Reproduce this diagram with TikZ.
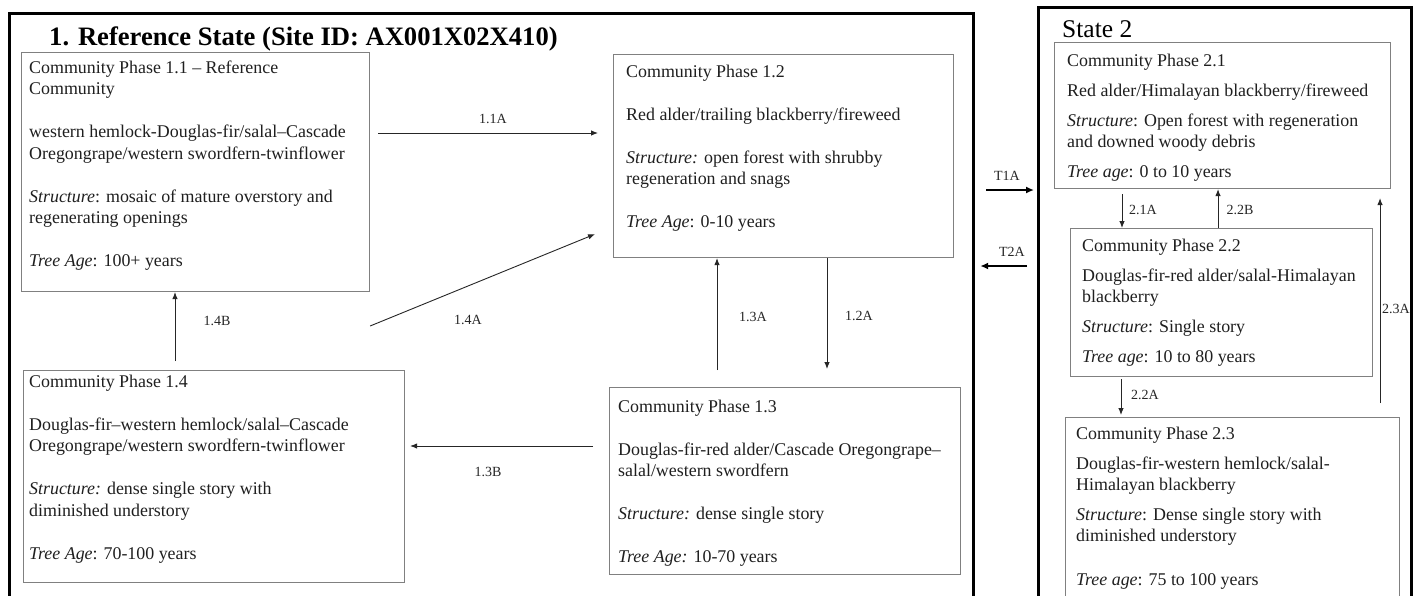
\documentclass[tikz,border=0pt]{standalone}
\usepackage{fontspec}
\setmainfont{Liberation Serif}
\usetikzlibrary{arrows.meta,calc}
\begin{document}
\begin{tikzpicture}[x=1pt,y=-1pt,
  frame/.style={draw=black, line width=3.2pt, anchor=north west, inner sep=0pt},
  box/.style={draw=black!50, line width=1.1pt, anchor=north west, inner sep=0pt},
  txt/.style={anchor=north west, inner sep=0pt, align=left, font=\fontsize{17.9}{21.5}\selectfont, text=black!88},
  txtb/.style={txt, font=\fontsize{17.9}{21}\selectfont},
  arr/.style={draw=black!85, line width=0.9pt, -{Latex[length=7pt,width=5.5pt]}},
  tarr/.style={draw=black, line width=2.2pt, -{Latex[length=8pt,width=7pt]}},
  lab/.style={font=\fontsize{14}{16}\selectfont, inner sep=0pt, text=black!85}]
\useasboundingbox (0,0) rectangle (1420,595);
\clip (0,0) rectangle (1420,595);
\fill[white] (0,0) rectangle (1420,595);

% state frames
\node[frame, minimum width=964pt, minimum height=640pt] (s1) at (8,12) {};
\node[frame, minimum width=373pt, minimum height=640pt] (s2) at (1037,6) {};
\node[anchor=base west, inner sep=0pt, font=\fontsize{26.6}{30}\selectfont\bfseries] (title1) at (49,45) {1. Reference State (Site ID: AX001X02X410)};
\node[anchor=base west, inner sep=0pt, font=\fontsize{25.5}{28}\selectfont] (title2) at (1062,37) {State 2};

% community phase boxes
\node[box, minimum width=348pt, minimum height=239pt] (p11) at (21,52) {};
\node[box, minimum width=340pt, minimum height=203pt] (p12) at (613,54) {};
\node[box, minimum width=351pt, minimum height=187pt] (p13) at (609,387) {};
\node[box, minimum width=381pt, minimum height=212pt] (p14) at (23,370) {};
\node[box, minimum width=336pt, minimum height=146pt] (p21) at (1054,42) {};
\node[box, minimum width=302pt, minimum height=148pt] (p22) at (1070,228) {};
\node[box, minimum width=334pt, minimum height=220pt] (p23) at (1065,417) {};

% texts
\node[txt] (t11) at ($(p11.north west)+(8,6)$) {\strut Community Phase 1.1 – Reference\\
Community\\[21.5pt]
western hemlock-Douglas-fir/salal–Cascade\\
Oregongrape/western swordfern-twinflower\\[21.5pt]
\textit{Structure}: mosaic of mature overstory and\\
regenerating openings\\[21.5pt]
\textit{Tree Age}: 100+ years};

\node[txt] (t12) at ($(p12.north west)+(13,8)$) {\strut Community Phase 1.2\\[21.5pt]
Red alder/trailing blackberry/fireweed\\[21.5pt]
\textit{Structure:} open forest with shrubby\\
regeneration and snags\\[21.5pt]
\textit{Tree Age}: 0-10 years};

\node[txt] (t13) at ($(p13.north west)+(9,10)$) {\strut Community Phase 1.3\\[21.5pt]
Douglas-fir-red alder/Cascade Oregongrape–\\
salal/western swordfern\\[21.5pt]
\textit{Structure:} dense single story\\[21.5pt]
\textit{Tree Age:} 10-70 years};

\node[txt] (t14) at ($(p14.north west)+(6,2)$) {\strut Community Phase 1.4\\[21.5pt]
Douglas-fir–western hemlock/salal–Cascade\\
Oregongrape/western swordfern-twinflower\\[21.5pt]
\textit{Structure:} dense single story with\\
diminished understory\\[21.5pt]
\textit{Tree Age}: 70-100 years};

\node[txtb] (t21) at ($(p21.north west)+(13,10)$) {\strut Community Phase 2.1\\[9pt]
Red alder/Himalayan blackberry/fireweed\\[9pt]
\textit{Structure}: Open forest with regeneration\\
and downed woody debris\\[9pt]
\textit{Tree age}: 0 to 10 years};

\node[txtb] (t22) at ($(p22.north west)+(12,9)$) {\strut Community Phase 2.2\\[9pt]
Douglas-fir-red alder/salal-Himalayan\\
blackberry\\[9pt]
\textit{Structure}: Single story\\[9pt]
\textit{Tree age}: 10 to 80 years};

\node[txtb] (t23) at ($(p23.north west)+(11,8)$) {\strut Community Phase 2.3\\[9pt]
Douglas-fir-western hemlock/salal-\\
Himalayan blackberry\\[9pt]
\textit{Structure}: Dense single story with\\
diminished understory\\[23pt]
\textit{Tree age}: 75 to 100 years};

% transitions within state 1
\draw[arr] ($(p11.north east)+(8,81)$) -- ($(p12.north west)+(-15,79)$);
\draw[arr] ($(p14.north east)+(-35,-44)$) -- ($(p12.south west)+(-18,-24)$);
\draw[arr] ($(p14.north west)+(152,-9)$) -- ($(p11.south west)+(154,0)$);
\draw[arr] ($(p13.north west)+(108,-17)$) -- ($(p12.south west)+(104,0)$);
\draw[arr] ($(p12.south west)+(214,0)$) -- ($(p13.north west)+(218,-18)$);
\draw[arr] ($(p13.north west)+(-16,59)$) -- ($(p14.north east)+(5,76)$);

% transitions between states
\draw[tarr] ($(s1.north east)+(11,178)$) -- ($(s2.north west)+(-3,184)$);
\draw[tarr] ($(s2.north west)+(-10,260)$) -- ($(s1.north east)+(5,254)$);

% transitions within state 2
\draw[arr] ($(p21.south west)+(68,5)$) -- ($(p22.north west)+(52,0)$);
\draw[arr] ($(p22.north west)+(148,0)$) -- ($(p21.south west)+(164,0)$);
\draw[arr] ($(p22.south west)+(51,2)$) -- ($(p23.north west)+(56,-2)$);
\draw[arr] ($(p23.north west)+(315,-14)$) -- ($(p21.south west)+(326,9)$);

% labels
\node[lab] (l11a) at (493,119) {1.1A};
\node[lab] (l14a) at (468,320) {1.4A};
\node[lab] (l14b) at (217,321) {1.4B};
\node[lab] (l13a) at (753,317) {1.3A};
\node[lab] (l12a) at (859,316) {1.2A};
\node[lab] (l13b) at (488,472) {1.3B};
\node[lab] (lt1a) at (1007,176) {T1A};
\node[lab] (lt2a) at (1012,252) {T2A};
\node[lab] (l21a) at (1143,210) {2.1A};
\node[lab] (l22b) at (1240,210) {2.2B};
\node[lab] (l22a) at (1145,395) {2.2A};
\node[lab] (l23a) at (1396,309) {2.3A};
\end{tikzpicture}
\end{document}
